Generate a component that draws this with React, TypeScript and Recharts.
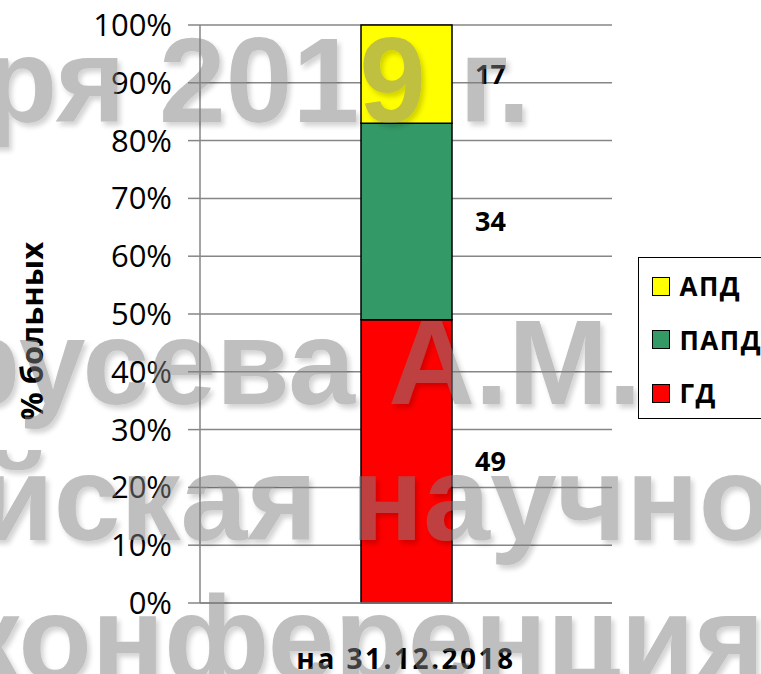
import React from "react";
import {
  BarChart,
  Bar,
  XAxis,
  YAxis,
  CartesianGrid,
  Legend,
  LabelList,
} from "recharts";

const categories = ["на 31.12.2018"];
const gdValues = [49];
const papdValues = [34];
const apdValues = [17];
const yTicks = [0, 0.1, 0.2, 0.3, 0.4, 0.5, 0.6, 0.7, 0.8, 0.9, 1];
const edgeTicks = [0, 1];
const legendOrder = ["АПД", "ПАПД", "ГД"];

const watermarkLines = [
  "ря 2019 г.",
  "русева А.М.",
  "йская научно",
  "конференция",
];

const data = categories.map((name, i) => ({
  name,
  gd: gdValues[i],
  papd: papdValues[i],
  apd: apdValues[i],
}));

const FONT = "'Open Sans', sans-serif";
const GRID = "#868686";

// watermark of the source slide, semi-transparent over the plot
const wmPos = [
  { x: -16, y: 122 },
  { x: -53, y: 404 },
  { x: -20, y: 540 },
  { x: -40, y: 680 },
];

const Watermark = () => (
  <svg
    width={761}
    height={674}
    style={{ position: "absolute", left: 0, top: 0, zIndex: 1, pointerEvents: "none" }}
  >
    <defs>
      <filter id="wmShadow" x="-10%" y="-10%" width="120%" height="130%">
        <feDropShadow dx="3" dy="4" stdDeviation="2.5" floodColor="#000" floodOpacity="0.35" />
      </filter>
    </defs>
    <g opacity={0.5} filter="url(#wmShadow)">
      {watermarkLines.map((t, i) => (
        <text
          key={i}
          x={wmPos[i].x}
          y={wmPos[i].y}
          fill="#808080"
          fontFamily="'Liberation Sans', Arial, sans-serif"
          fontWeight="bold"
          fontSize={120}
        >
          {t}
        </text>
      ))}
    </g>
  </svg>
);

const renderLegend = (props: any) => {
  const items = [...(props.payload || [])].sort(
    (a: any, b: any) => legendOrder.indexOf(a.value) - legendOrder.indexOf(b.value)
  );
  return (
    <div
      style={{
        width: 140,
        height: 162,
        boxSizing: "border-box",
        border: "1.5px solid #000",
        background: "#fff",
        position: "relative",
      }}
    >
      {items.map((it: any, i: number) => (
        <div
          key={it.value}
          style={{
            position: "absolute",
            left: 12.5,
            top: 18.5 + i * 53.5,
            display: "flex",
            alignItems: "center",
            height: 19,
          }}
        >
          <span
            style={{
              width: 18,
              height: 19,
              boxSizing: "border-box",
              background: it.color,
              border: "1px solid #000",
              display: "inline-block",
            }}
          />
          <span
            style={{
              marginLeft: 10,
              fontFamily: FONT,
              fontWeight: 700,
              fontSize: 26,
              letterSpacing: 1.5,
              color: "#000",
              whiteSpace: "nowrap",
            }}
          >
            {it.value}
          </span>
        </div>
      ))}
    </div>
  );
};

const renderYLabel = (props: any) => {
  const vb = props.viewBox;
  const x = vb.x + 43;
  const y = vb.y + vb.height / 2 + 17;
  return (
    <text
      x={x}
      y={y}
      transform={`rotate(-90, ${x}, ${y})`}
      textAnchor="middle"
      fontFamily={FONT}
      fontWeight="bold"
      fontSize={31}
      fill="#000"
    >
      % больных
    </text>
  );
};

const labelStyle = {
  fontFamily: FONT,
  fontWeight: 700,
  fontSize: 27,
  fill: "#000",
};

export default function App() {
  return (
    <div
      style={{
        position: "absolute",
        left: 0,
        top: 0,
        width: 761,
        height: 674,
        overflow: "hidden",
        background: "#fff",
      }}
    >
      <BarChart
        width={761}
        height={674}
        data={data}
        stackOffset="expand"
        margin={{ top: 25, right: 149, left: 0, bottom: 0 }}
      >
        <CartesianGrid vertical={false} stroke={GRID} strokeWidth={1.5} />
        <XAxis
          xAxisId="edge"
          type="number"
          domain={[0, 1]}
          ticks={edgeTicks}
          tick={false}
          axisLine={false}
          tickLine={{ stroke: GRID, strokeWidth: 1.5 }}
          tickSize={12}
          height={0}
        />
        <XAxis
          dataKey="name"
          axisLine={{ stroke: GRID, strokeWidth: 1.5 }}
          tickLine={false}
          tickSize={0}
          tickMargin={46}
          height={71}
          tick={{
            fontFamily: FONT,
            fontWeight: 700,
            fontSize: 28,
            fill: "#000",
            letterSpacing: 2.5,
          }}
        />
        <YAxis
          type="number"
          domain={[0, 1]}
          ticks={yTicks}
          width={200}
          tickFormatter={(v: number) => `${Math.round(v * 100)}%`}
          axisLine={{ stroke: GRID, strokeWidth: 1.5 }}
          tickLine={{ stroke: GRID, strokeWidth: 1.5 }}
          tickSize={12}
          tickMargin={16}
          tick={{ fontFamily: FONT, fontSize: 31, fill: "#000" }}
          label={{ value: "% больных", content: renderYLabel }}
        />
        <Legend
          layout="horizontal"
          align="center"
          verticalAlign="middle"
          content={renderLegend}
          wrapperStyle={{ left: 638, top: 257, width: 140, height: 162, zIndex: 2 }}
        />
        <Bar dataKey="gd" name="ГД" stackId="a" fill="#FF0000" stroke="#000" strokeWidth={1.5} barSize={91} isAnimationActive={false}>
          <LabelList dataKey="gd" position="right" offset={23} style={labelStyle} />
        </Bar>
        <Bar dataKey="papd" name="ПАПД" stackId="a" fill="#339966" stroke="#000" strokeWidth={1.5} barSize={91} isAnimationActive={false}>
          <LabelList dataKey="papd" position="right" offset={23} style={labelStyle} />
        </Bar>
        <Bar dataKey="apd" name="АПД" stackId="a" fill="#FFFF00" stroke="#000" strokeWidth={1.5} barSize={91} isAnimationActive={false}>
          <LabelList dataKey="apd" position="right" offset={23} style={labelStyle} />
        </Bar>
      </BarChart>
      <Watermark />
    </div>
  );
}
